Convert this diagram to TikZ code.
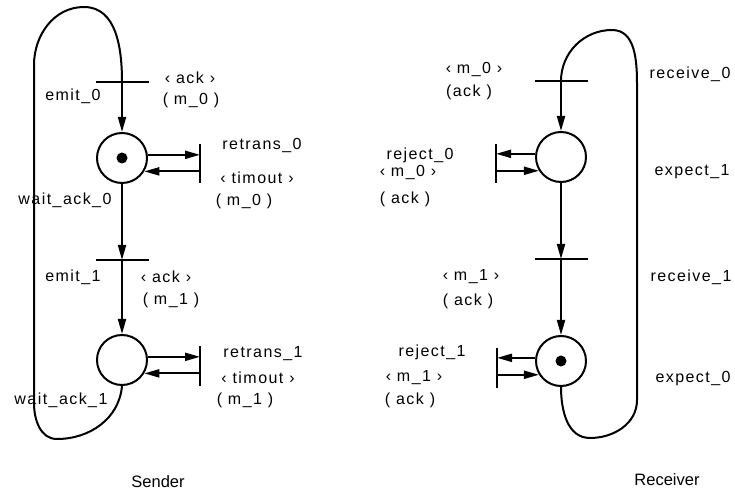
\documentclass[tikz,border=0pt]{standalone}
\usepackage{fontspec}
\setmainfont{Liberation Sans}
\newfontfamily\netfont[LetterSpace=9]{Liberation Sans}
\usetikzlibrary{arrows.meta,positioning}

\begin{document}
\begin{tikzpicture}[x=1pt,y=1pt,
  place/.style={circle,draw,line width=2pt,minimum size=50pt,inner sep=0pt},
  token/.style={circle,fill,minimum size=11pt,inner sep=0pt},
  transh/.style={fill,inner sep=0pt,minimum width=53pt,minimum height=2pt},
  transv/.style={fill,inner sep=0pt,minimum width=2.2pt,minimum height=39pt},
  flow/.style={-{Triangle[length=15pt,width=8pt]},line width=2pt},
  feedback/.style={line width=2pt},
  lbl/.style={font=\netfont\fontsize{16}{18}\selectfont,inner sep=0pt},
  side/.style={font=\fontsize{16.5}{19}\selectfont,inner sep=0pt}
]
\useasboundingbox (0,0) rectangle (735,495);

% sender
\node[place] (wait0) at (122,337) {};
\node[token] (tok0) at (wait0) {};
\node[place] (wait1) at (122,135) {};
\node[transh] (emit0) at (122,413) {};
\node[transh] (emit1) at (122,235) {};
\node[transv] (retr0) at (200,331) {};
\node[transv] (retr1) at (200,129) {};

\draw[flow] (emit0.center) -- (wait0);
\draw[flow] (wait0) -- (emit1.center);
\draw[flow] (emit1.center) -- (wait1);
\draw[flow] (wait0.7) -- (wait0.7 -| retr0);
\draw[flow] (wait0.-31 -| retr0) -- (wait0.-31);
\draw[flow] (wait1.7) -- (wait1.7 -| retr1);
\draw[flow] (wait1.-31 -| retr1) -- (wait1.-31);
\draw[feedback] (wait1.south) to[out=-95,in=0] (57,56) to[out=180,in=-90] (34,92)
  -- (34,430) to[out=90,in=180] (84,488) to[out=0,in=90] (emit0.center);

\node[lbl] (lemit0) at (73,399) {emit\_0};
\node[lbl] (lack0) at (190,417) {‹ ack ›};
\node[lbl] (lmsg0) at (191,395) {( m\_0 )};
\node[lbl] (lretr0) at (262,349) {retrans\_0};
\node[lbl] (ltime0) at (257,317) {‹ timout ›};
\node[lbl] (lrmsg0) at (244,294) {( m\_0 )};
\node[lbl] (lwait0) at (65,295) {wait\_ack\_0};
\node[lbl] (lemit1) at (73,218) {emit\_1};
\node[lbl] (lack1) at (166,218) {‹ ack ›};
\node[lbl] (lmsg1) at (171,195) {( m\_1 )};
\node[lbl] (lretr1) at (263,141) {retrans\_1};
\node[lbl] (ltime1) at (258,117) {‹ timout ›};
\node[lbl] (lrmsg1) at (245,95) {( m\_1 )};
\node[lbl] (lwait1) at (61,95) {wait\_ack\_1};
\node[side] (sender) at (158,13) {Sender};

% receiver
\node[place] (exp1) at (561,338) {};
\node[place] (exp0) at (561,134) {};
\node[token] (tok1) at (exp0) {};
\node[transh] (recv0) at (561,414) {};
\node[transh] (recv1) at (561,236) {};
\node[transv] (rej0) at (496,331) {};
\node[transv] (rej1) at (497,127) {};

\draw[flow] (recv0.center) -- (exp1);
\draw[flow] (exp1) -- (recv1.center);
\draw[flow] (recv1.center) -- (exp0);
\draw[flow] (exp1.173) -- (exp1.173 -| rej0);
\draw[flow] (exp1.-148 -| rej0) -- (exp1.-148);
\draw[flow] (exp0.173) -- (exp0.173 -| rej1);
\draw[flow] (exp0.-148 -| rej1) -- (exp0.-148);
\draw[feedback] (recv0.center) to[out=90,in=180] (612,465) to[out=0,in=90] (637,410)
  -- (637,95) to[out=-90,in=0] (590,57) to[out=180,in=-90] (exp0.south);

\node[lbl] (lm0) at (474,425) {‹ m\_0 ›};
\node[lbl] (lak0) at (469,403) {(ack )};
\node[lbl] (lrecv0) at (690,421) {receive\_0};
\node[lbl] (lrej0) at (420,340) {reject\_0};
\node[lbl] (lrm0) at (408,322) {‹ m\_0 ›};
\node[lbl] (lrak0) at (405,296) {( ack )};
\node[lbl] (lexp1) at (692,323) {expect\_1};
\node[lbl] (lm1) at (471,218) {‹ m\_1 ›};
\node[lbl] (lak1) at (468,194) {( ack )};
\node[lbl] (lrecv1) at (691,218) {receive\_1};
\node[lbl] (lrej1) at (432,143) {reject\_1};
\node[lbl] (lrm1) at (414,117) {‹ m\_1 ›};
\node[lbl] (lrak1) at (410,95) {( ack )};
\node[lbl] (lexp0) at (693,116) {expect\_0};
\node[side] (receiver) at (667,15) {Receiver};
\end{tikzpicture}
\end{document}
